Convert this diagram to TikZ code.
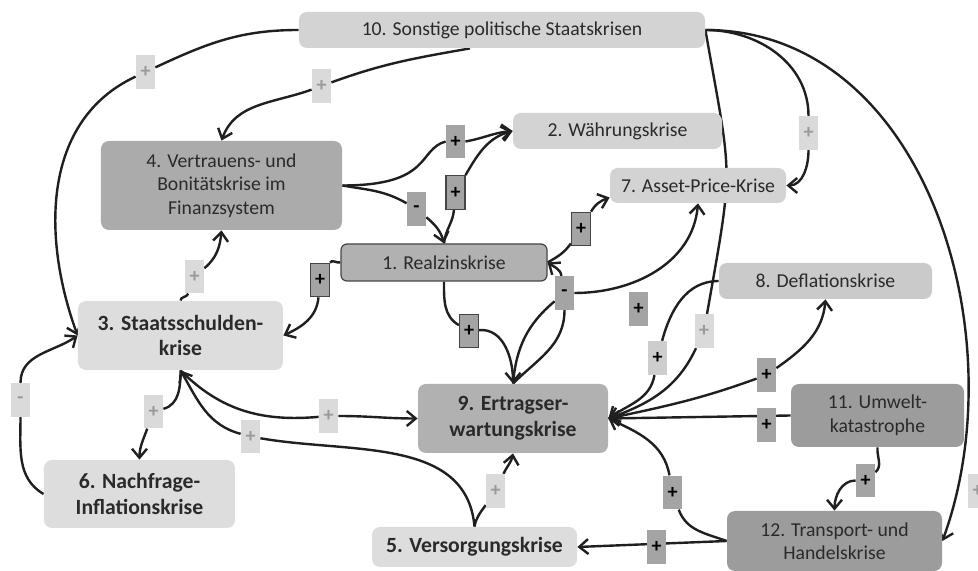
\documentclass[tikz,border=0pt]{standalone}
\usepackage{fontspec}
\setmainfont{Carlito}
\usepackage{xcolor}
\definecolor{cText}{HTML}{2A2A2A}
\definecolor{cLine}{HTML}{1F1F1F}
\definecolor{cFrame}{HTML}{454545}
\definecolor{cPale}{HTML}{DDDDDD}
\definecolor{cLight}{HTML}{D3D3D3}
\definecolor{cSoft}{HTML}{CACACA}
\definecolor{cMid}{HTML}{B1B1B1}
\definecolor{cDark}{HTML}{ABABAB}
\definecolor{cDeep}{HTML}{9C9C9C}
\definecolor{cSignPale}{HTML}{DADADA}
\definecolor{cSignPaleText}{HTML}{9A9A9A}
\definecolor{cSignDark}{HTML}{A4A4A4}
\definecolor{cSignMid}{HTML}{CDCDCD}
\usepackage{tikz}
\usetikzlibrary{positioning,arrows.meta,backgrounds}

\begin{document}
\begin{tikzpicture}[
            node distance=2cm,
            on grid,
            box/.style={
                rectangle,
                rounded corners=4pt,
                inner sep=0pt,
                align=center,
                text=cText,
                font=\fontsize{9.85}{11.75}\selectfont
            },
            bigbox/.style={
                box,
                font=\fontsize{10.85}{12.8}\selectfont\bfseries
            },
            arrow/.style={
                ->,
                line width=1.2pt,
                color=cLine,
                >={Straight Barb[length=4.5pt,width=7.5pt]}
            },
            sign/.style={
                rectangle,
                inner sep=0pt,
                minimum width=9.5pt,
                minimum height=16.75pt,
                font=\fontsize{10}{12}\selectfont\bfseries
            },
            weak/.style={sign, fill=cSignPale, text=cSignPaleText},
            strong/.style={sign, fill=cSignDark, text=black},
            framed/.style={strong, draw=cFrame, line width=0.6pt},
            medium/.style={sign, fill=cSignMid, text=black}
        ]
            \node (ertrag) [bigbox, fill=cMid, minimum width=95pt, minimum height=34.5pt] at (0,0) {9. Ertragser-\\wartungskrise};
            \node (umwelt) [box, fill=cDeep, minimum width=86.5pt, minimum height=31.5pt, above right=1.5pt and 182.25pt of ertrag] {11. Umwelt-\\katastrophe};
            \node (realzins) [box, fill=cMid, draw=cFrame, line width=0.6pt, rounded corners=3pt, minimum width=103pt, minimum height=18.5pt, above left=78pt and 34.5pt of ertrag] {1. Realzinskrise};
            \node (vertrauen) [box, fill=cDark, minimum width=120.5pt, minimum height=44.5pt, above left=38.5pt and 111.25pt of realzins] {4. Vertrauens- und\\Bonitätskrise im\\Finanzsystem};
            \node (asset) [box, fill=cLight, minimum width=88pt, minimum height=17.5pt, right=238.25pt of vertrauen] {7. Asset-Price-Krise};
            \node (waehrung) [box, fill=cLight, minimum width=104.5pt, minimum height=18pt, above right=65.75pt and 86.75pt of realzins] {2. Währungskrise};
            \node (politik) [box, fill=cLight, minimum width=203pt, minimum height=18pt, above left=194.25pt and 5.5pt of ertrag] {10. Sonstige politische Staatskrisen};
            \node (schulden) [bigbox, fill=cPale, minimum width=102.5pt, minimum height=34.5pt, above left=41.5pt and 166.25pt of ertrag] {3. Staatsschulden-\\krise};
            \node (nachfrage) [bigbox, fill=cPale, minimum width=95.5pt, minimum height=34pt, below left=79.25pt and 20.5pt of schulden] {6. Nachfrage-\\Inflationskrise};
            \node (deflation) [box, fill=cSoft, minimum width=106.5pt, minimum height=18pt, above right=68.75pt and 156.25pt of ertrag] {8. Deflationskrise};
            \node (versorgung) [bigbox, fill=cPale, minimum width=102.5pt, minimum height=20pt, below left=64.25pt and 19.25pt of ertrag] {5. Versorgungskrise};
            \node (handel) [box, fill=cDeep, minimum width=107.5pt, minimum height=30pt, below right=61.25pt and 160.75pt of ertrag] {12. Transport- und\\Handelskrise};

            \useasboundingbox (-256.5pt,-75.75pt) rectangle (232.5pt,209.25pt);

            \node (ps2sk) [weak] at (-183.75pt,173.25pt) {+};
            \node (ps2vb) [weak] at (-95.75pt,166.25pt) {+};
            \node (ps2ap) [weak] at (147.75pt,142.75pt) {+};
            \node (ps2th) [weak] at (232.25pt,-36.25pt) {+};
            \node (ps2ew) [weak] at (95.5pt,43.75pt) {+};
            \node (vb2wk) [strong] at (-28.75pt,138.5pt) {+};
            \node (rz2wk) [framed] at (-28.75pt,113pt) {+};
            \node (vb2rz) [strong] at (-48.25pt,104.75pt) {-};
            \node (sk2vb) [weak] at (-159.25pt,71pt) {+};
            \node (rz2sk) [framed] at (-96.5pt,69.25pt) {+};
            \node (rz2ap) [framed] at (34pt,94.75pt) {+};
            \node (rz2ew) [framed] at (-22pt,43.75pt) {+};
            \node (ew2rz) [strong] at (25.75pt,62.75pt) {-};
            \node (ew2ap) [strong] at (62.75pt,54.75pt) {+};
            \node (df2ew) [medium] at (72.25pt,30.25pt) {+};
            \node (ew2df) [strong] at (126.75pt,21.75pt) {+};
            \node (uk2ew) [strong] at (126.75pt,-3.25pt) {+};
            \node (th2ew) [strong] at (79.75pt,-37pt) {+};
            \node (th2vs) [strong] at (71.75pt,-64.25pt) {+};
            \node (uk2th) [strong] at (176.25pt,-31pt) {+};
            \node (vs2ew) [weak] at (-8.75pt,-36.25pt) {+};
            \node (vs2sk) [weak] at (-131.25pt,-9pt) {+};
            \node (sk2ew) [weak] at (-92.25pt,1.25pt) {+};
            \node (sk2ni) [weak] at (-179.75pt,3.5pt) {+};
            \node (ni2sk) [weak] at (-246.25pt,9.25pt) {-};

            \begin{scope}[on background layer]
            \draw[arrow] (politik.west) to[out=180,in=25] (ps2sk) to[out=205,in=110] (schulden.west);
            \draw[arrow] ([xshift=-16pt]politik.south) to[out=190,in=20] (ps2vb) to[out=200,in=70] (vertrauen.north);
            \draw[arrow] (politik.east) to[out=0,in=90] (ps2ap) to[out=270,in=0] (asset.east);
            \draw[arrow] (politik.east) to[out=0,in=70] (handel.east);
            \draw[arrow] (politik.east) to[out=-80,in=80,looseness=1.4] (ps2ew) to[out=245,in=20] (ertrag.east);
            \draw[arrow] (vertrauen.east) .. controls +(45pt,0pt) and +(-14pt,-4pt) .. (vb2wk.west) (vb2wk.east) to[out=10,in=185] (waehrung.west);
            \draw[arrow] (realzins.north) to[out=85,in=265] (rz2wk) to[out=60,in=195] (waehrung.west);
            \draw[arrow] (vertrauen.east) to[out=-10,in=150] (vb2rz) to[out=-40,in=105] (realzins.north);
            \draw[arrow] (schulden.north) to[out=90,in=250] (sk2vb) to[out=40,in=265] (vertrauen.south);
            \draw[arrow] (realzins.west) to[out=190,in=60] (rz2sk) to[out=265,in=25] (schulden.east);
            \draw[arrow] (realzins.east) to[out=30,in=235] (rz2ap) to[out=60,in=200] ([yshift=-6pt]asset.west);
            \draw[arrow] (realzins.south) to[out=270,in=150] (rz2ew) to[out=5,in=90] (ertrag.north);
            \draw[arrow] (ertrag.north) to[out=85,in=220] (ew2rz) to[out=100,in=-35] (realzins.east);
            \draw[arrow] (ertrag.north) to[out=45,in=270] (ew2rz.south) (ew2rz.east) to[out=0,in=265] (asset.south);
            \draw[arrow] (deflation.west) to[out=180,in=75] (df2ew) to[out=260,in=35] (ertrag.east);
            \draw[arrow] (ertrag.east) to[out=12,in=200] (ew2df) to[out=35,in=265] (deflation.south);
            \draw[arrow] (umwelt.west) -- (ertrag.east);
            \draw[arrow] (handel.west) to[out=160,in=290] (th2ew) to[out=100,in=-25] (ertrag.east);
            \draw[arrow] (handel.west) -- (versorgung.east);
            \draw[arrow] (umwelt.south) to[out=-95,in=40] (uk2th) to[out=180,in=90] (handel.north);
            \draw[arrow] (versorgung.north) to[out=80,in=235] (vs2ew) to[out=65,in=260] (ertrag.south);
            \draw[arrow] (versorgung.north) to[out=95,in=-10] (vs2sk) to[out=165,in=-60] (schulden.south);
            \draw[arrow] (schulden.south) to[out=-45,in=185] (sk2ew) to[out=0,in=180] (ertrag.west);
            \draw[arrow] (schulden.south) to[out=-90,in=15] (sk2ni) to[out=250,in=90] (nachfrage.north);
            \draw[arrow] (nachfrage.west) to[out=150,in=270] (ni2sk) to[out=90,in=215] (schulden.west);
            \end{scope}
        \end{tikzpicture}
\end{document}
